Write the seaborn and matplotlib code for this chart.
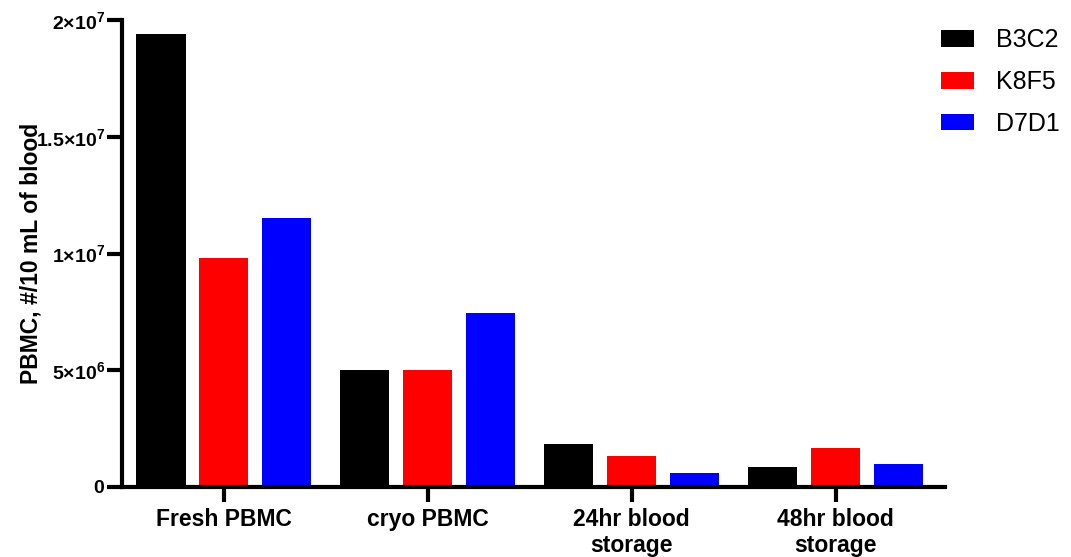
import matplotlib
matplotlib.use("Agg")
import matplotlib.pyplot as plt
import seaborn as sns
import pandas as pd

conditions = ["Fresh PBMC", "cryo PBMC", "24hr blood\nstorage", "48hr blood\nstorage"]
donors = ["B3C2", "K8F5", "D7D1"]
b3c2 = [1.94e7, 5.0e6, 1.84e6, 0.86e6]
k8f5 = [0.98e7, 5.0e6, 1.33e6, 1.67e6]
d7d1 = [1.152e7, 7.45e6, 0.60e6, 0.99e6]
colors = ["#000000", "#ff0000", "#0000ff"]
ytick_values = [0, 5e6, 1e7, 1.5e7, 2e7]
ytick_labels = [r"$\mathbf{0}$", r"$\mathbf{5{\times}10^{6}}$", r"$\mathbf{1{\times}10^{7}}$",
                r"$\mathbf{1.5{\times}10^{7}}$", r"$\mathbf{2{\times}10^{7}}$"]

df = pd.DataFrame({
    "condition": conditions * 3,
    "donor": [d for d in donors for _ in conditions],
    "count": b3c2 + k8f5 + d7d1,
})

sns.set_theme(style="white")
plt.rcParams["font.family"] = ["Liberation Sans", "DejaVu Sans"]
plt.rcParams["mathtext.fontset"] = "custom"
plt.rcParams["mathtext.rm"] = "Liberation Sans"
plt.rcParams["mathtext.bf"] = "Liberation Sans:bold"
for key in ["text.color", "axes.labelcolor", "xtick.color", "ytick.color"]:
    plt.rcParams[key] = "black"

fig = plt.figure(figsize=(10.71, 5.57), dpi=100)
ax = fig.add_axes([0.1139, 0.1257, 0.882 - 0.1139, 0.964 - 0.1257])

sns.barplot(data=df, x="condition", y="count", hue="donor", hue_order=donors,
            order=conditions, palette=colors, width=0.926, gap=0.22,
            saturation=1, linewidth=0, ax=ax)

ax.set_xlim(-0.5, 3.534)
ax.set_ylim(0, 2e7)
ax.set_yticks(ytick_values)
ax.set_yticklabels(ytick_labels, fontsize=14)
ax.set_xticks(range(len(conditions)))
ax.set_xticklabels(conditions, fontsize=16.5, fontweight="bold", linespacing=1.15)
ax.set_xlabel("")
ax.set_ylabel("PBMC, #/10 mL of blood", fontsize=16.5, fontweight="bold")
ax.yaxis.set_label_coords(-0.097, 0.5)

for side in ["top", "right"]:
    ax.spines[side].set_visible(False)
for side in ["left", "bottom"]:
    ax.spines[side].set_linewidth(3)
    ax.spines[side].set_color("black")
ax.tick_params(axis="both", which="major", direction="out", length=11, width=3,
               color="black", left=True, bottom=True)
ax.tick_params(axis="y", pad=1)
ax.tick_params(axis="x", pad=4)

handles, labels = ax.get_legend_handles_labels()
ax.legend(handles, labels, loc="upper left", bbox_to_anchor=(0.996, 0.982),
          frameon=False, fontsize=18, handlelength=1.32, handleheight=0.64,
          labelspacing=0.71, handletextpad=0.88, borderaxespad=0, borderpad=0)

fig.savefig("out.png", dpi=100)
